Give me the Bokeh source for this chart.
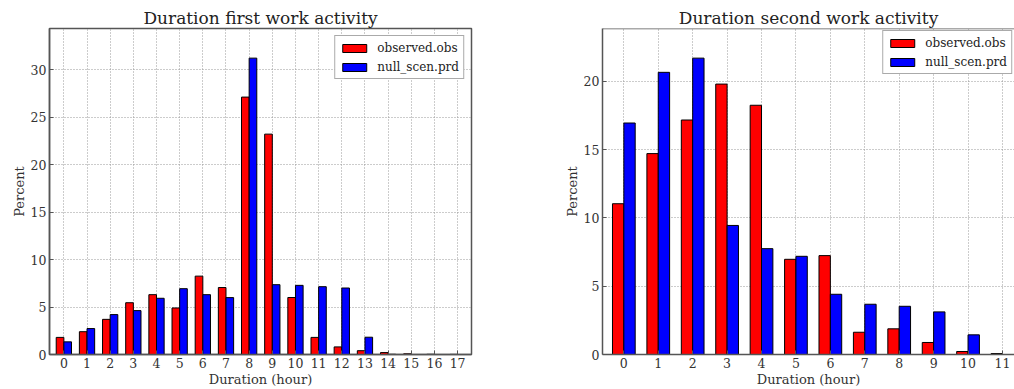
from bokeh.plotting import figure
from bokeh.layouts import row
from bokeh.models import ColumnDataSource, FixedTicker, Range1d, Span
from bokeh.transform import dodge
from bokeh.embed import file_html
from bokeh.resources import INLINE

# ---------------- data ----------------
hours1 = list(range(18))
observed1 = [1.8, 2.4, 3.7, 5.45, 6.3, 4.9, 8.25, 7.05, 27.1, 23.2, 6.0, 1.8,
             0.8, 0.4, 0.2, 0.07, 0.02, 0.01]
null_scen1 = [1.33, 2.73, 4.2, 4.62, 5.92, 6.93, 6.3, 5.99, 31.2, 7.35, 7.28, 7.14,
              7.0, 1.82, 0.02, 0.0, 0.0, 0.0]

hours2 = list(range(12))
observed2 = [11.04, 14.71, 17.17, 19.8, 18.25, 6.97, 7.24, 1.63, 1.88, 0.88, 0.22, 0.07]
null_scen2 = [16.95, 20.66, 21.7, 9.45, 7.75, 7.19, 4.41, 3.68, 3.53, 3.12, 1.44, 0.0]

titles = ["Duration first work activity", "Duration second work activity"]
series_names = ["observed.obs", "null_scen.prd"]
y_ticks1 = [0, 5, 10, 15, 20, 25, 30]
y_ticks2 = [0, 5, 10, 15, 20]

FONT = "DejaVu Serif"
SPINE = "#555555"


def style_axis(ax):
    ax.axis_line_color = SPINE
    ax.axis_line_width = 1.5
    ax.major_tick_in = 4
    ax.major_tick_out = 0
    ax.major_tick_line_color = SPINE
    ax.minor_tick_line_color = None
    ax.major_label_text_font = FONT
    ax.major_label_text_font_size = "12.5px"
    ax.major_label_text_color = "#333333"
    ax.major_label_standoff = 3
    ax.axis_label_text_font = FONT
    ax.axis_label_text_font_size = "13px"
    ax.axis_label_text_font_style = "normal"
    ax.axis_label_text_color = "#333333"
    ax.axis_label_standoff = 1


def make_plot(title, hours, obs, null, yticks, xend, width, mb_left, mb_right,
              legend_margin, outline):
    src = ColumnDataSource(dict(x=hours, obs=obs, null=null))
    ymax = max(max(obs), max(null)) * 1.1
    p = figure(width=width, height=389, output_backend="svg", toolbar_location=None,
               x_range=Range1d(-0.62, xend), y_range=Range1d(0, ymax),
               min_border_left=mb_left, min_border_right=mb_right,
               min_border_top=28, min_border_bottom=34)
    p.outline_line_color = SPINE if outline else None
    p.outline_line_width = 1.5
    p.background_fill_color = "white"
    p.title.text = title
    p.title.text_font = FONT
    p.title.text_font_size = "17px"
    p.title.text_font_style = "normal"
    p.title.text_color = "#222222"
    p.title.align = "center"
    p.title.standoff = 2

    p.vbar(x=dodge("x", -0.165, range=p.x_range), top="obs", width=0.33, source=src,
           fill_color="#ff0000", line_color="black", line_width=1,
           legend_label=series_names[0])
    p.vbar(x=dodge("x", 0.165, range=p.x_range), top="null", width=0.33, source=src,
           fill_color="#0000ff", line_color="black", line_width=1,
           legend_label=series_names[1])

    xt = FixedTicker(ticks=hours)
    yt = FixedTicker(ticks=yticks)
    p.xaxis.ticker = xt
    p.yaxis.ticker = yt
    p.xaxis.axis_label = "Duration (hour)"
    p.yaxis.axis_label = "Percent"
    for ax in p.xaxis + p.yaxis:
        style_axis(ax)

    if not outline:
        p.add_layout(Span(location=ymax, dimension="width", line_color=SPINE,
                          line_width=1.5))

    p.xgrid.ticker = xt
    p.ygrid.ticker = yt
    for g in (p.xgrid, p.ygrid):
        g.grid_line_color = "#999999"
        g.grid_line_dash = "1 2"
        g.grid_line_width = 1

    lg = p.legend[0]
    lg.location = "top_right"
    lg.margin = legend_margin
    lg.padding = 4
    lg.spacing = 4
    lg.glyph_width = 30
    lg.glyph_height = 10
    lg.label_height = 15
    lg.label_standoff = 8
    lg.label_text_font = FONT
    lg.label_text_font_size = "12px"
    lg.label_text_color = "#222222"
    lg.border_line_color = SPINE
    lg.border_line_width = 1
    lg.background_fill_alpha = 1
    return p


p1 = make_plot(titles[0], hours1, observed1, null_scen1, y_ticks1, 17.6, 491, 49, 20, 7, True)
p2 = make_plot(titles[1], hours2, observed2, null_scen2, y_ticks2, 11.35, 523, 111, 0, 2, False)

layout = row(p1, p2)
open("out.html", "w").write(file_html(layout, INLINE))
